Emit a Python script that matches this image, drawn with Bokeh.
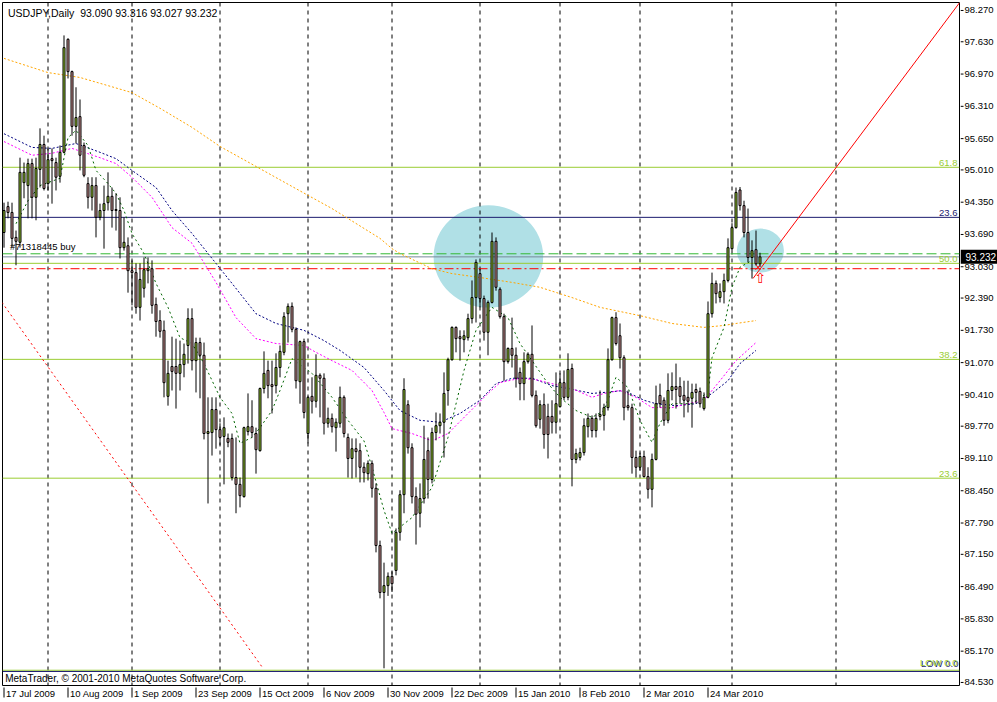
from bokeh.plotting import figure
from bokeh.models import ColumnDataSource, Range1d, Label, Span
from bokeh.layouts import row, column
from bokeh.core.properties import value
from bokeh.embed import file_html
from bokeh.resources import INLINE

symbol = "USDJPY,Daily"

opens = [
    93.73, 94.26, 94.14, 93.63, 93.53, 94.75, 94.69, 95.14, 94.45, 95.02,
    95.53, 94.73, 95.24, 95.16, 94.88, 95.37, 97.68, 97.02, 95.90, 96.10,
    95.51, 94.73, 94.45, 94.69, 94.04, 94.18, 94.34, 94.47, 94.20, 94.18,
    93.42, 93.46, 92.95, 92.91, 92.20, 92.59, 92.95, 92.99, 92.26, 91.93,
    91.73, 90.38, 90.99, 90.99, 90.85, 91.03, 91.42, 91.97, 91.11, 91.48,
    91.22, 89.62, 89.64, 90.11, 89.70, 89.56, 89.52, 89.52, 88.72, 88.58,
    88.33, 89.66, 89.76, 89.62, 89.27, 90.54, 90.91, 90.62, 90.60, 90.97,
    91.28, 92.07, 92.22, 91.75, 90.68, 91.50, 89.62, 90.38, 90.28, 90.81,
    90.75, 89.83, 89.93, 89.74, 89.83, 90.36, 89.54, 89.11, 89.31, 89.27,
    88.93, 88.80, 89.01, 88.50, 87.33, 86.37, 86.51, 86.70, 86.82, 87.60,
    88.37, 90.21, 89.33, 88.33, 87.99, 88.29, 89.27, 88.68, 89.64, 89.78,
    89.85, 90.50, 91.13, 91.79, 91.60, 91.54, 91.58, 91.97, 92.40, 92.89,
    92.38, 91.69, 92.30, 93.55, 92.57, 92.01, 91.09, 91.36, 91.22, 90.87,
    90.64, 91.09, 91.24, 90.40, 89.91, 90.21, 89.97, 89.97, 89.85, 90.17,
    90.66, 90.36, 90.95, 89.09, 89.13, 89.23, 89.76, 89.93, 89.68, 89.97,
    89.99, 90.15, 91.13, 91.99, 91.62, 91.17, 90.19, 90.15, 89.13, 88.93,
    89.15, 88.74, 88.48, 89.09, 90.40, 90.30, 89.89, 90.50, 90.58, 90.58,
    90.40, 90.36, 90.34, 90.52, 90.48, 90.13, 90.36, 92.07, 92.69, 92.40,
    92.52, 92.75, 93.40, 93.83, 94.60, 94.28, 93.73, 93.22, 93.38, 93.090,
]
highs = [
    94.34, 94.36, 94.34, 93.77, 95.26, 95.16, 95.24, 95.24, 95.26, 95.86,
    95.71, 95.45, 95.45, 95.26, 95.51, 97.76, 97.70, 97.04, 96.70, 96.45,
    95.57, 94.86, 94.86, 94.86, 94.32, 94.69, 94.96, 94.65, 94.53, 94.45,
    94.04, 93.63, 93.16, 93.10, 93.10, 93.22, 93.22, 93.16, 92.40, 92.14,
    91.93, 91.11, 91.60, 91.56, 91.52, 91.46, 92.18, 92.18, 91.58, 91.58,
    91.48, 90.36, 90.36, 90.36, 89.83, 89.95, 89.62, 89.62, 89.54, 88.72,
    89.76, 90.44, 90.30, 89.74, 90.56, 91.30, 91.11, 91.11, 91.26, 91.42,
    92.10, 92.28, 92.30, 91.79, 91.52, 91.56, 90.38, 90.77, 91.24, 90.85,
    90.85, 90.15, 90.03, 89.93, 90.58, 90.40, 89.62, 89.52, 89.52, 89.42,
    89.03, 89.07, 89.07, 88.60, 87.43, 86.98, 86.78, 86.80, 87.68, 88.46,
    90.75, 90.30, 89.42, 88.52, 88.60, 89.78, 89.54, 89.74, 90.05, 90.03,
    90.87, 91.17, 91.81, 91.81, 91.73, 91.73, 92.07, 92.75, 93.18, 92.99,
    92.44, 92.34, 93.73, 93.63, 92.61, 92.07, 91.38, 91.99, 91.38, 90.97,
    91.28, 91.28, 91.83, 90.50, 90.30, 90.44, 90.23, 90.30, 90.87, 90.85,
    90.91, 91.26, 91.05, 89.31, 89.33, 89.93, 90.03, 89.99, 90.03, 90.50,
    90.23, 91.36, 92.01, 92.10, 91.87, 91.22, 90.50, 90.23, 89.27, 89.23,
    89.27, 88.93, 89.21, 90.60, 90.64, 90.36, 90.85, 90.87, 91.05, 90.77,
    90.70, 90.70, 90.64, 90.64, 90.56, 90.46, 92.32, 92.91, 92.75, 92.69,
    92.89, 93.61, 93.92, 94.65, 94.66, 94.38, 94.22, 93.57, 93.77, 93.316,
]
lows = [
    93.42, 94.02, 93.42, 93.06, 93.42, 94.43, 94.02, 94.02, 93.98, 94.65,
    94.59, 94.59, 94.32, 94.59, 94.75, 95.35, 96.88, 95.71, 95.55, 95.00,
    94.86, 94.22, 94.18, 93.63, 93.98, 93.40, 94.18, 93.83, 93.77, 93.20,
    93.36, 92.50, 92.24, 92.07, 91.93, 92.40, 92.69, 92.07, 91.60, 91.58,
    90.36, 90.19, 90.50, 90.13, 90.50, 90.77, 91.05, 90.91, 90.46, 90.34,
    89.50, 88.19, 89.17, 89.31, 89.38, 88.58, 89.34, 88.66, 87.99, 88.11,
    88.31, 89.58, 89.54, 88.80, 89.25, 90.44, 90.34, 90.03, 90.44, 90.77,
    91.22, 91.48, 91.69, 90.54, 90.23, 89.93, 89.42, 90.03, 90.15, 89.95,
    89.60, 89.74, 89.64, 89.25, 89.74, 89.54, 88.72, 88.70, 88.72, 88.62,
    88.62, 88.66, 88.31, 87.19, 86.25, 84.82, 86.30, 86.38, 86.72, 87.43,
    87.99, 89.21, 88.19, 87.35, 87.70, 88.19, 88.29, 88.60, 89.48, 89.62,
    89.13, 90.19, 91.11, 91.28, 91.11, 91.28, 91.52, 91.87, 91.89, 92.20,
    91.52, 91.22, 92.28, 92.54, 91.97, 90.70, 91.05, 90.97, 90.56, 90.30,
    90.30, 91.05, 90.36, 89.74, 89.72, 89.31, 89.11, 89.62, 89.62, 90.15,
    90.30, 90.30, 88.54, 89.01, 89.07, 89.17, 89.54, 89.54, 89.54, 89.89,
    89.68, 90.09, 91.11, 91.42, 90.95, 89.89, 90.09, 88.80, 88.72, 88.86,
    88.72, 88.29, 88.11, 89.07, 90.15, 89.78, 89.83, 90.30, 90.13, 90.23,
    89.95, 90.05, 89.74, 90.23, 90.15, 90.09, 90.34, 91.99, 92.28, 92.30,
    92.28, 92.71, 93.36, 93.81, 94.18, 93.63, 93.12, 92.79, 93.06, 93.027,
]
closes = [
    94.18, 94.14, 93.61, 93.55, 94.96, 94.96, 95.14, 94.45, 95.04, 95.53,
    94.63, 95.22, 95.20, 94.86, 95.37, 97.51, 97.02, 95.90, 96.08, 95.31,
    94.90, 94.45, 94.69, 94.04, 94.18, 94.32, 94.47, 94.18, 94.18, 93.42,
    93.53, 92.95, 92.91, 92.20, 92.77, 92.97, 92.99, 92.24, 91.91, 91.71,
    90.66, 90.85, 90.89, 90.85, 91.03, 91.24, 91.97, 91.11, 91.48, 91.22,
    89.62, 89.66, 90.11, 89.70, 89.54, 89.74, 89.44, 88.72, 88.58, 88.35,
    89.74, 89.76, 89.64, 89.29, 90.54, 90.85, 90.60, 90.58, 90.97, 91.30,
    92.01, 92.22, 91.75, 90.70, 91.50, 90.05, 90.36, 90.28, 90.81, 90.75,
    89.83, 89.93, 89.76, 89.85, 90.36, 89.62, 89.11, 89.31, 89.25, 88.93,
    88.82, 89.01, 88.50, 87.33, 86.37, 86.51, 86.70, 86.55, 87.60, 88.37,
    90.52, 89.33, 88.33, 87.97, 88.29, 89.09, 88.68, 89.64, 89.78, 89.85,
    90.44, 91.13, 91.79, 91.56, 91.56, 91.62, 91.97, 92.40, 93.12, 92.38,
    91.69, 92.30, 93.55, 92.61, 92.01, 91.09, 91.36, 91.22, 90.75, 90.64,
    91.09, 91.24, 90.40, 89.78, 90.21, 89.60, 89.60, 89.85, 90.23, 90.66,
    90.36, 90.93, 89.09, 89.21, 89.23, 89.78, 89.93, 89.68, 89.93, 90.01,
    90.15, 91.13, 91.99, 91.46, 91.17, 90.15, 90.15, 89.13, 88.93, 89.15,
    88.74, 88.48, 89.09, 90.23, 90.23, 89.89, 90.50, 90.58, 90.52, 90.38,
    90.30, 90.28, 90.46, 90.46, 90.23, 90.36, 92.07, 92.69, 92.48, 92.52,
    92.75, 93.42, 93.83, 94.55, 94.28, 93.73, 93.22, 93.36, 93.09, 93.232,
]

# date labels every 16 bars, month-start grid bars
xtick_bars = [0, 16, 32, 48, 64, 80, 96, 112, 128, 144, 160, 176]
xtick_labels = ["17 Jul 2009", "10 Aug 2009", "1 Sep 2009", "23 Sep 2009",
                "15 Oct 2009", "6 Nov 2009", "30 Nov 2009", "22 Dec 2009",
                "15 Jan 2010", "8 Feb 2010", "2 Mar 2010", "24 Mar 2010"]
grid_bars = [11, 32, 54, 76, 97, 119, 139, 159, 182, 208]
ytick_values = [98.270, 97.630, 96.970, 96.310, 95.650, 95.010, 94.350, 93.690,
                93.030, 92.390, 91.730, 91.070, 90.410, 89.770, 89.110, 88.450,
                87.790, 87.150, 86.490, 85.830, 85.170, 84.530]

# moving averages (read samples)
orange_bars = [0, 11, 19, 32, 39, 47, 54, 76, 82, 94, 97, 99, 107, 112, 119, 127,
               134, 142, 149, 159, 167, 175, 180, 183, 188]
orange_vals = [97.29, 97.00, 96.90, 96.59, 96.27, 95.88, 95.49, 94.49, 94.22, 93.61,
               93.40, 93.30, 92.99, 92.89, 92.81, 92.71, 92.61, 92.40, 92.20, 92.03,
               91.87, 91.79, 91.83, 91.87, 91.93]
navy_bars = [0, 7, 12, 18, 24, 28, 32, 38, 42, 47, 57, 63, 68, 72, 75, 80, 84, 90,
             95, 99, 104, 109, 114, 119, 123, 127, 132, 137, 141, 147, 150, 155,
             160, 163, 168, 173, 177, 181, 184, 188]
navy_vals = [95.75, 95.47, 95.45, 95.55, 95.37, 95.24, 95.00, 94.65, 94.18, 93.71,
             92.69, 92.07, 91.87, 91.79, 91.73, 91.52, 91.32, 90.97, 90.50, 90.09,
             89.89, 89.85, 90.03, 90.30, 90.64, 90.75, 90.75, 90.60, 90.54, 90.44,
             90.46, 90.50, 90.30, 90.23, 90.19, 90.23, 90.44, 90.70, 91.05, 91.32]
magenta_bars = [0, 7, 12, 17, 24, 28, 32, 37, 42, 47, 53, 58, 63, 68, 75, 78, 82,
                87, 92, 95, 97, 102, 107, 111, 116, 121, 124, 129, 133, 137, 142,
                147, 150, 154, 158, 162, 167, 171, 175, 179, 183, 188]
magenta_vals = [95.59, 95.31, 95.35, 95.45, 95.26, 95.14, 94.86, 94.45, 93.83, 93.51,
                92.71, 91.99, 91.56, 91.46, 91.42, 91.28, 91.11, 90.91, 90.50, 90.05,
                89.72, 89.62, 89.47, 89.62, 90.03, 90.44, 90.66, 90.75, 90.72, 90.64,
                90.54, 90.36, 90.44, 90.50, 90.36, 90.15, 90.15, 90.23, 90.30, 90.70,
                91.11, 91.48]
green_bars = [3, 6, 9, 14, 16, 18, 21, 23, 26, 28, 30, 32, 35, 38, 41, 44, 47, 50,
              54, 57, 59, 62, 64, 67, 69, 72, 77, 82, 86, 90, 92, 95, 97, 102, 107,
              111, 115, 118, 122, 126, 129, 132, 136, 139, 143, 147, 150, 153, 156,
              159, 162, 164, 167, 172, 176, 177, 180, 182, 184, 187]
green_vals = [93.91, 94.38, 94.69, 94.84, 95.67, 95.82, 95.51, 95.00, 94.73, 94.53,
              94.18, 93.71, 93.30, 92.69, 92.20, 91.58, 91.46, 91.05, 90.36, 90.03,
              89.42, 89.54, 89.74, 90.09, 90.50, 91.15, 90.85, 90.36, 89.89, 89.47,
              88.93, 88.05, 87.58, 87.90, 88.52, 89.54, 90.91, 91.73, 92.20, 91.99,
              91.46, 91.11, 90.64, 90.36, 90.09, 89.95, 90.09, 90.77, 90.56, 89.89,
              89.44, 89.83, 90.23, 90.23, 90.46, 91.17, 91.79, 92.61, 93.02, 93.16]

# Fibonacci retracement and other chart objects
fib_low, fib_high = 84.78, 101.42
fib_levels = [0.0, 23.6, 38.2, 50.0, 61.8]
navy_line_prices = [94.04, 84.755]
order_open = 93.295
stop_loss = 92.99
order_label = "#71318445 buy"
up_trend_bars = [187.25, 240.0]
up_trend_prices = [92.79, 98.55]
down_trend_bars = [-0.5, 64.75]
down_trend_prices = [92.30, 84.82]
ellipse_bars = [121.1, 189.1]
ellipse_prices = [93.24, 93.36]
ellipse_w = [27.4, 11.75]
ellipse_h = [2.09, 0.90]
arrow_bar, arrow_price = 189, 92.80
cross_bar, cross_price = 188.5, 93.02

FONT = "Liberation Sans"
BULL = "#9ACD32"
BEAR = "#D69A9A"
FIBC = "#9ACD32"
NAVY = "#1A1A6E"

X0, X1 = -0.375, 238.875          # visible bar range
Y0, Y1 = 84.468, 98.433           # visible price range
FRAME_H = 683                      # main plot frame height in px
PP = (Y1 - Y0) / FRAME_H           # price per pixel

# ---------------- main price panel ----------------
p = figure(width=960, height=686, x_range=Range1d(X0, X1), y_range=Range1d(Y0, Y1),
           output_backend="svg", toolbar_location=None,
           x_axis_location=None, y_axis_location=None,
           min_border_left=2, min_border_top=2, min_border_right=1,
           min_border_bottom=1, background_fill_color="white",
           border_fill_color="white", outline_line_color="black")
p.xgrid.visible = False
p.ygrid.visible = False

# background ellipses
p.ellipse(x=ellipse_bars, y=ellipse_prices, width=ellipse_w, height=ellipse_h,
          fill_color="#B0E0E6", line_color=None, level="image")

# period separators
for b in grid_bars:
    p.add_layout(Span(location=b, dimension="height", line_color="black",
                      line_width=1, line_dash="4 4", level="underlay"))

# horizontal lines
for lvl in fib_levels:
    price = fib_low + (fib_high - fib_low) * lvl / 100.0
    p.add_layout(Span(location=price, dimension="width", line_color=FIBC,
                      line_width=1, level="underlay"))
for price in navy_line_prices:
    p.add_layout(Span(location=price, dimension="width", line_color=NAVY,
                      line_width=1, level="underlay"))
p.add_layout(Span(location=order_open, dimension="width", line_color="#33B833",
                  line_width=1, line_dash="10 4", level="underlay"))
p.add_layout(Span(location=closes[-1], dimension="width", line_color="#778899",
                  line_width=1, level="underlay"))
p.add_layout(Span(location=stop_loss, dimension="width", line_color="#FF0000",
                  line_width=1, line_dash="9 3 2 3", level="underlay"))

# moving averages
p.line(orange_bars, orange_vals, line_color="#FFA500", line_width=1, line_dash="2 2")
p.line(navy_bars, navy_vals, line_color="#000080", line_width=1, line_dash="2 2")
p.line(magenta_bars, magenta_vals, line_color="#FF00FF", line_width=1, line_dash="2 2")
p.line(green_bars, green_vals, line_color="#006400", line_width=1, line_dash="2 3")

# candles
idx = list(range(len(opens)))
src = ColumnDataSource(dict(
    x=idx, h=highs, l=lows,
    top=[max(o, c) for o, c in zip(opens, closes)],
    bottom=[min(o, c) for o, c in zip(opens, closes)],
    color=[BULL if c >= o else BEAR for o, c in zip(opens, closes)],
))
p.segment(x0="x", y0="h", x1="x", y1="l", source=src, line_color="black", line_width=1)
p.vbar(x="x", width=0.5, top="top", bottom="bottom", source=src,
       fill_color="color", line_color="black", line_width=1)

# trend lines
p.line(up_trend_bars, up_trend_prices, line_color="#FF0000", line_width=1)
p.line(down_trend_bars, down_trend_prices, line_color="#FF0000", line_width=1,
       line_dash="2 3")

# buy arrow and cross
p.text(x=[arrow_bar], y=[arrow_price], text=["\u21e7"], text_color="#FF0000",
       text_font=value("DejaVu Sans"), text_font_size="14px",
       text_align="center", text_baseline="middle")
p.scatter(x=[cross_bar], y=[cross_price], marker="x", size=7,
          line_color="#FF0000", line_width=1)

# texts inside the chart
header = "%s\u00a0\u00a0%.3f %.3f %.3f %.3f" % (symbol, opens[-1], highs[-1],
                                                lows[-1], closes[-1])
p.add_layout(Label(x=1.0, y=Y1, y_offset=-4, text=header, text_baseline="top",
                   text_font=FONT, text_font_size="10.5px", text_color="black"))
p.add_layout(Label(x=1.5, y=order_open, y_offset=2, text=order_label,
                   text_baseline="bottom", text_font=FONT, text_font_size="9.5px",
                   text_color="black"))
p.add_layout(Label(x=0.3, y=Y0, y_offset=2,
                   text="MetaTrader, \u00a9 2001-2010 MetaQuotes Software Corp.",
                   text_baseline="bottom", text_font=FONT, text_font_size="10px",
                   text_color="black"))

for lvl in fib_levels[1:]:
    price = fib_low + (fib_high - fib_low) * lvl / 100.0
    p.add_layout(Label(x=X1, x_offset=-2, y=price, y_offset=1, text="%.1f" % lvl,
                       text_align="right", text_baseline="bottom", text_font=FONT,
                       text_font_size="9.5px", text_color=FIBC))
p.add_layout(Label(x=X1, x_offset=-2, y=navy_line_prices[0], y_offset=1, text="23.6",
                   text_align="right", text_baseline="bottom", text_font=FONT,
                   text_font_size="9.5px", text_color=NAVY))
p.add_layout(Label(x=X1, x_offset=-1, y=fib_low, y_offset=1, text="LOW 0.0",
                   text_align="right", text_baseline="bottom", text_font=FONT,
                   text_font_size="9.5px", text_color=NAVY))
p.add_layout(Label(x=X1, x_offset=-2, y=fib_low, y_offset=2, text="LOW 0.0",
                   text_align="right", text_baseline="bottom", text_font=FONT,
                   text_font_size="9.5px", text_color=FIBC))

# ---------------- time scale strip ----------------
tb = figure(width=960, height=16, x_range=p.x_range, y_range=Range1d(0, 16),
            output_backend="svg", toolbar_location=None,
            x_axis_location=None, y_axis_location=None,
            min_border_left=2, min_border_right=1, min_border_top=0,
            min_border_bottom=0, outline_line_color=None,
            background_fill_color="white", border_fill_color="white")
tb.xgrid.visible = False
tb.ygrid.visible = False
tb.segment(x0=xtick_bars, y0=[15] * len(xtick_bars), x1=xtick_bars,
           y1=[5] * len(xtick_bars), line_color="black", line_width=1)
tb.text(x=xtick_bars, y=[9.5] * len(xtick_bars), text=xtick_labels, x_offset=2,
        text_align="left", text_baseline="middle", text_font=value(FONT),
        text_font_size="9.5px", text_color="black")

# ---------------- price scale strip ----------------
RS_H = 702
rs = figure(width=37, height=RS_H, x_range=Range1d(0, 37),
            y_range=Range1d(Y1 - (RS_H - 2) * PP, Y1),
            output_backend="svg", toolbar_location=None,
            x_axis_location=None, y_axis_location=None,
            min_border_left=0, min_border_right=0, min_border_top=2,
            min_border_bottom=0, outline_line_color=None,
            background_fill_color="white", border_fill_color="white")
rs.xgrid.visible = False
rs.ygrid.visible = False
rs.segment(x0=[0] * len(ytick_values), y0=ytick_values, x1=[3] * len(ytick_values),
           y1=ytick_values, line_color="black", line_width=1)
rs.text(x=[4] * len(ytick_values), y=ytick_values,
        text=["%.3f" % v for v in ytick_values], text_align="left",
        text_baseline="middle", text_font=value(FONT), text_font_size="9.5px",
        text_color="black")
rs.rect(x=[18.5], y=[closes[-1]], width=37, height=14, height_units="screen",
        fill_color="black", line_color=None)
rs.text(x=[5], y=[closes[-1]], text=["%.3f" % closes[-1]], text_align="left",
        text_baseline="middle", text_font=value(FONT), text_font_size="10px",
        text_color="white")

layout = row(column(p, tb), rs)

open("out.html", "w").write(file_html(layout, INLINE))
